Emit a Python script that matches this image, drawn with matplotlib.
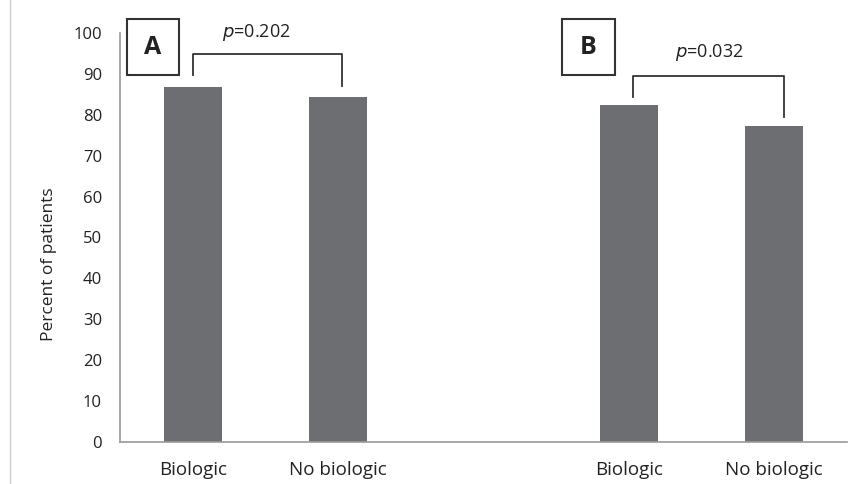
import matplotlib.pyplot as plt
from matplotlib.lines import Line2D
from matplotlib.patches import Rectangle

# values
categories = ['Biologic', 'No biologic', 'Biologic', 'No biologic']
positions = [0, 1, 3, 4]
percents = [86.9, 84.4, 82.3, 77.3]
panel_labels = ['A', 'B']
p_values = ['0.202', '0.032']

plt.rcParams['font.family'] = ['Open Sans', 'DejaVu Sans']

W, H = 854, 484
fig = plt.figure(figsize=(W / 100, H / 100), dpi=100)
ax = fig.add_axes([120 / W, 42 / H, 727 / W, 409 / H])

ax.bar(positions, percents, width=0.4, color='#6d6e71')
ax.set_xlim(-0.5, 4.5)
ax.set_ylim(0, 100)
ax.set_yticks(range(0, 101, 10))
ax.set_xticks(positions)
ax.set_xticklabels(categories)
ax.tick_params(length=0, colors='#222222')
ax.tick_params(axis='y', pad=13, labelsize=12)
ax.tick_params(axis='x', pad=14, labelsize=13.5)
for side in ['top', 'right']:
    ax.spines[side].set_visible(False)
for side in ['left', 'bottom']:
    ax.spines[side].set_color('#9a9a9a')
    ax.spines[side].set_linewidth(1.2)
ax.set_ylabel('Percent of patients', fontsize=12.5, color='#222222')
ax.yaxis.set_label_coords(-0.087, 0.435)

# significance brackets: (left x, right x, top, left drop, right drop, text x, text y)
brackets = [
    (0.0, 1.03, 94.9, 89.7, 87.0, 0.44, 100.2),
    (3.03, 4.07, 89.5, 84.4, 79.5, 3.55, 95.2),
]
for (x0, x1, top, y0, y1, tx, ty), pv in zip(brackets, p_values):
    ax.plot([x0, x0, x1, x1], [y0, top, top, y1], color='#333333', lw=1.3,
            clip_on=False)
    ax.text(tx, ty, '$p$=' + pv, ha='center', va='center', fontsize=13,
            color='#222222', clip_on=False)

# panel letters in boxes (pixel boxes: left, top, right, bottom)
boxes = [(127, 19, 179, 75), (562, 19, 615, 75)]
for lab, (l, t, r, b) in zip(panel_labels, boxes):
    fig.add_artist(Rectangle((l / W, 1 - b / H), (r - l) / W, (b - t) / H,
                             transform=fig.transFigure, fc='white',
                             ec='#333333', lw=1.5))
    fig.text((l + r) / 2 / W, 1 - (t + b) / 2 / H, lab, ha='center',
             va='center', fontsize=18, fontweight='bold', color='#222222')

# faint border on the left of the image
fig.add_artist(Line2D([10 / W, 10 / W], [0, 1], color='#cccccc', lw=1))

fig.savefig('out.png', dpi=100)
